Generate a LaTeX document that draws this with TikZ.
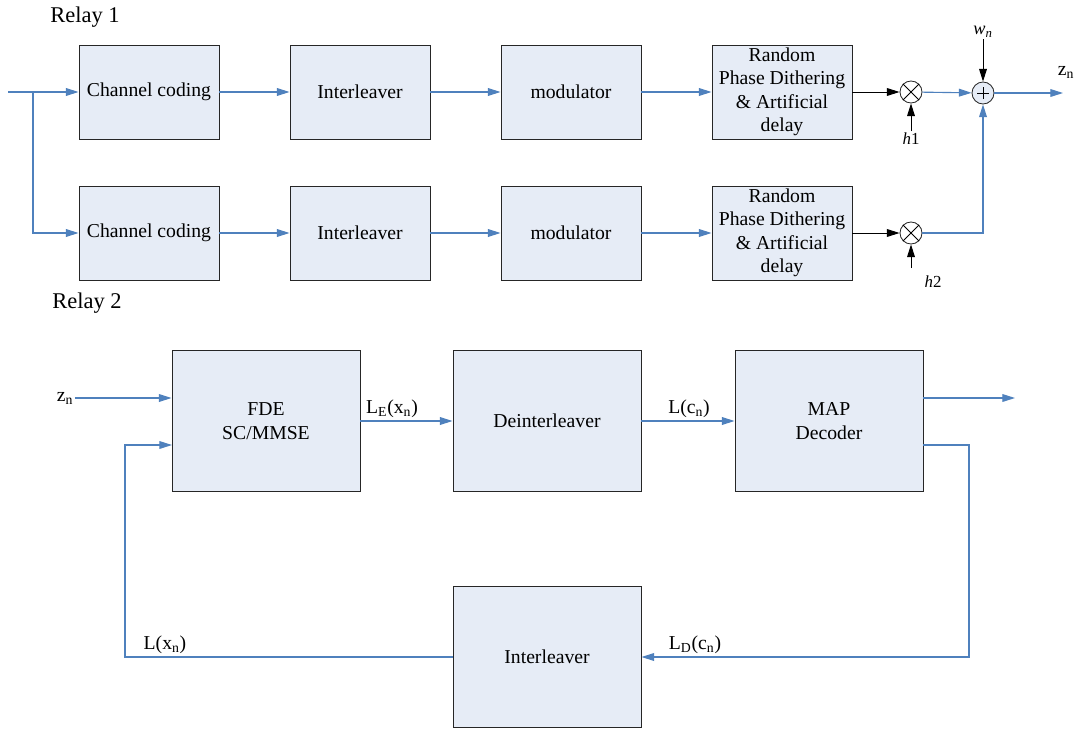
\documentclass[tikz,border=0pt]{standalone}
\usepackage{fontspec}
\setmainfont{Liberation Serif}
\usetikzlibrary{arrows.meta}
\usetikzlibrary{calc}
\definecolor{linkblue}{RGB}{79,129,189}
\definecolor{boxfill}{RGB}{230,236,246}

\begin{document}
\begin{tikzpicture}[x=0.025cm, y=-0.025cm,
    block/.style={draw=black!85, line width=0.6pt, fill=boxfill, minimum width=3.5cm, minimum height=2.35cm, align=center, inner sep=1pt, font=\fontsize{14}{16.7}\selectfont},
    bigblock/.style={block, minimum width=4.7cm, minimum height=3.525cm},
    mult/.style={draw=black!85, line width=0.6pt, fill=white, circle, minimum size=0.55cm, inner sep=0pt},
    lbl/.style={font=\fontsize{14}{16}\selectfont, inner sep=1pt},
    link/.style={draw=linkblue, line width=0.8pt, -{Triangle[length=9pt,width=5.5pt]}},
    sig/.style={draw=black, line width=0.7pt, -{Triangle[length=9pt,width=5.5pt]}}]

      \useasboundingbox (0,0) rectangle (1078,730);

      % Relay 1 chain
      \node[lbl, font=\fontsize{16}{18}\selectfont] (relayA) at (85,17) {Relay 1};
      \node[block] (ccA)  at (149,92) {Channel coding};
      \node[block] (ilA)  at (360,92) {Interleaver};
      \node[block] (modA) at (571,92) {modulator};
      \node[block] (rpdA) at (782,92) {Random\\Phase Dithering\\\& Artificial\\delay};

      % Relay 2 chain
      \node[lbl, font=\fontsize{16}{18}\selectfont] (relayB) at (87,303) {Relay 2};
      \node[block] (ccB)  at (149,233) {Channel coding};
      \node[block] (ilB)  at (360,233) {Interleaver};
      \node[block] (modB) at (571,233) {modulator};
      \node[block] (rpdB) at (782,233) {Random\\Phase Dithering\\\& Artificial\\delay};

      % Multipliers and adder
      \node[mult] (mA) at (911,92) {};
      \node[mult] (mB) at (911,233) {};
      \node[mult, fill=boxfill] (sum) at (983,93) {};
      \draw[line width=0.6pt] (mA.north west) -- (mA.south east) (mA.north east) -- (mA.south west);
      \draw[line width=0.6pt] (mB.north west) -- (mB.south east) (mB.north east) -- (mB.south west);
      \draw[line width=0.6pt] ($(sum)+(-6,0)$) -- ($(sum)+(6,0)$) ($(sum)+(0,-6)$) -- ($(sum)+(0,6)$);

      % Channel labels
      \node[lbl, font=\fontsize{13}{15}\selectfont] (wn) at (983,32) {\textit{w}\textsubscript{\textit{n}}};
      \node[lbl, font=\fontsize{12}{14}\selectfont] (hA) at (911,139) {\textit{h}1};
      \node[lbl, font=\fontsize{12}{14}\selectfont] (hB) at (933,282) {\textit{h}2};
      \node[lbl] (zout) at (1066,72) {z\textsubscript{n}};

      % Input and split
      \coordinate (in) at (8,92);
      \coordinate (split) at (33,92);
      \coordinate (hBtail) at (911,268);
      \coordinate (zend) at (1063,93);
      \draw[link] (in) -- (ccA.west);
      \draw[link] (split) |- (ccB.west);

      % Top connectors
      \draw[link] (ccA) -- (ilA);
      \draw[link] (ilA) -- (modA);
      \draw[link] (modA) -- (rpdA);
      \draw[link] (ccB) -- (ilB);
      \draw[link] (ilB) -- (modB);
      \draw[link] (modB) -- (rpdB);
      \draw[sig] (rpdA) -- (mA);
      \draw[sig] (rpdB) -- (mB);
      \draw[sig] (hA.north) -- (mA.south);
      \draw[sig] (hBtail) -- (mB.south);
      \draw[sig] (wn.south) -- (sum.north);
      \draw[link] (mA) -- (sum);
      \draw[link] (mB) -| (sum.south);
      \draw[link] (sum) -- (zend);

      % Receiver
      \node[bigblock] (fde) at (266,421) {FDE\\SC/MMSE};
      \node[bigblock] (deil) at (547,421) {Deinterleaver};
      \node[bigblock] (map) at (829,421) {MAP\\Decoder};
      \node[bigblock] (ilC) at (547,657) {Interleaver};

      \node[lbl] (zin) at (65,398) {z\textsubscript{n}};
      \node[lbl] (LE) at (392,409) {L\textsubscript{E}(x\textsubscript{n})};
      \node[lbl] (Lc) at (689,409) {L(c\textsubscript{n})};
      \node[lbl] (LD) at (695,645) {L\textsubscript{D}(c\textsubscript{n})};
      \node[lbl] (Lx) at (165,645) {L(x\textsubscript{n})};

      \coordinate (fdeIn) at (172,445);
      \coordinate (mapOut) at (1015,398);
      \coordinate (mapFb) at (923,445);
      \coordinate (fbR) at (969,657);
      \coordinate (fbL) at (125,657);

      % Receiver connectors
      \draw[link] (zin.east) -- (zin.east -| fde.west);
      \draw[link] (fde) -- (deil);
      \draw[link] (deil) -- (map);
      \draw[link] (map.east |- mapOut) -- (mapOut);
      \draw[link] (mapFb) -| (fbR) -- (ilC.east);
      \draw[link] (ilC.west) -- (fbL) |- (fdeIn);
\end{tikzpicture}
\end{document}
